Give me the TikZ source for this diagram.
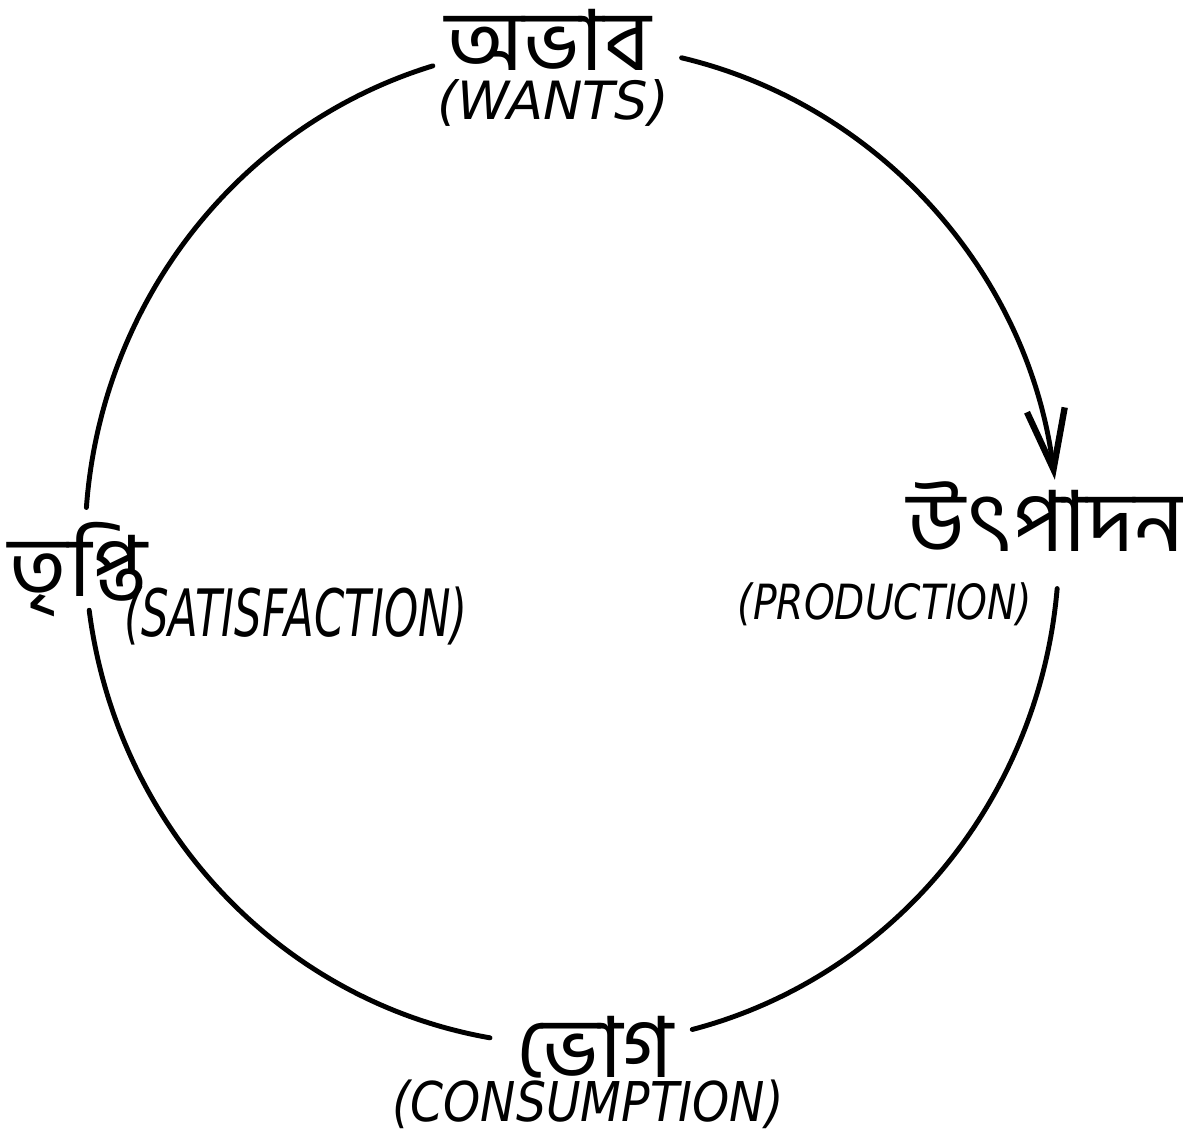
\documentclass[tikz,border=0pt]{standalone}
\usepackage{fontspec}
\newfontfamily\bnfont[Script=Bengali, FakeStretch=1.05]{Hind Siliguri}
\newfontfamily\glossfont{DejaVu Sans}
\usetikzlibrary{arrows.meta}

\begin{document}
\begin{tikzpicture}[
  x=0.1mm, y=0.1mm,
  bangla/.style={inner sep=0pt, text height=0.62em, text depth=0.05em,
                 font=\bnfont\fontsize{24}{28}\selectfont},
  gloss/.style={inner sep=0pt, font=\glossfont\itshape\fontsize{12}{14}\selectfont},
  cycle/.style={line width=1.4pt, line cap=round},
  flow/.style={cycle, -{Straight Barb[length=6mm, width=3.8mm, line width=1.8pt]}}
]
  \useasboundingbox (0,0) rectangle (1183,1142);
  \coordinate (c) at (572,597);

  % the four stages
  \node[bangla] (wantsbn) at (548,1082) {অভাব};
  \node[gloss] (wants) at (553,1039) {\scalebox{1.25}[1.25]{(WANTS)}};
  \node[bangla] (prodbn) at (1046,601) {উৎপাদন};
  \node[gloss] (prod) at (885,538) {\scalebox{0.93}[1.15]{(PRODUCTION)}};
  \node[bangla] (consbn) at (595,75) {ভোগ};
  \node[gloss] (cons) at (588,38) {\scalebox{1.12}[1.3]{(CONSUMPTION)}};
  \node[bangla] (satbn) at (78,556) {তৃপ্তি};
  \node[gloss] (sat) at (296,526) {\scalebox{1.03}[1.55]{(SATISFACTION)}};

  % the cycle
  \draw[flow] ([shift={(77:487 and 500)}]c) arc[start angle=77, end angle=7.5, x radius=487, y radius=500];
  \draw[cycle] ([shift={(-5:487 and 500)}]c) arc[start angle=-5, end angle=-75.7, x radius=487, y radius=500];
  \draw[cycle] ([shift={(-99.7:487 and 500)}]c) arc[start angle=-99.7, end angle=-172.5, x radius=487, y radius=500];
  \draw[cycle] ([shift={(175.7:487 and 500)}]c) arc[start angle=175.7, end angle=106.6, x radius=487, y radius=500];
\end{tikzpicture}
\end{document}
